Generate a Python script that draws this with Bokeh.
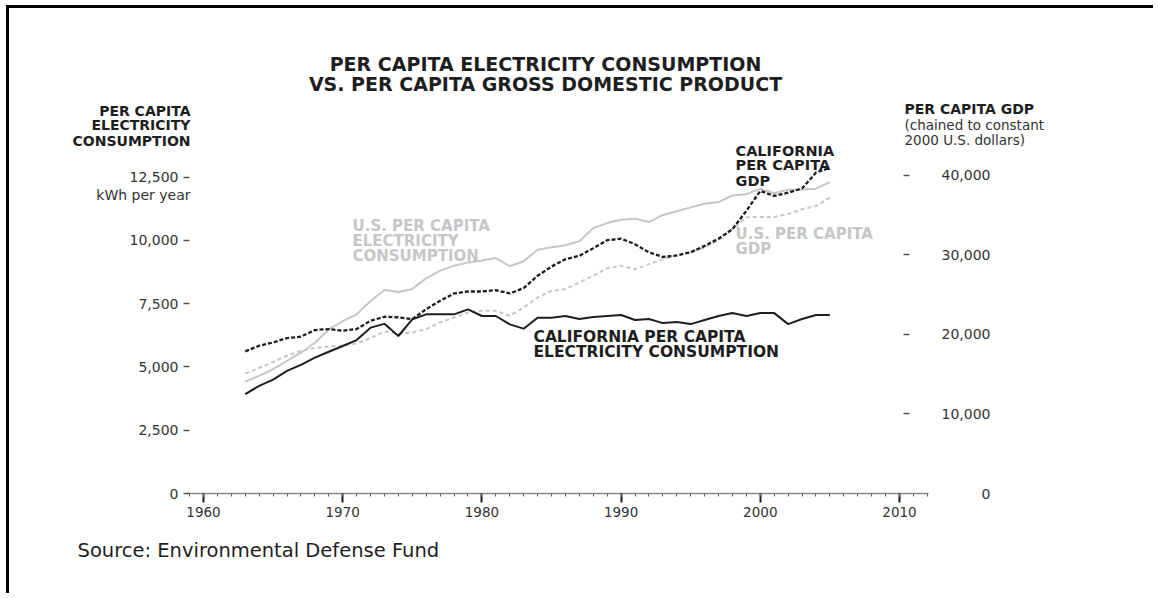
from bokeh.plotting import figure
from bokeh.models import Range1d, LinearAxis, FixedTicker, Label
from bokeh.embed import file_html
from bokeh.resources import INLINE

# ---------------- data ----------------
years = list(range(1963, 2006))
ca_elec = [3925, 4250, 4500, 4840, 5080, 5365, 5600, 5825, 6060, 6550, 6700, 6220,
           6880, 7075, 7075, 7075, 7270, 7010, 7010, 6680, 6510, 6940, 6940, 7010,
           6890, 6970, 7010, 7050, 6850, 6890, 6730, 6770, 6690, 6850, 7010, 7125,
           7010, 7125, 7125, 6690, 6890, 7050, 7050]
us_elec = [4420, 4645, 4910, 5235, 5560, 5955, 6480, 6810, 7075, 7600, 8040, 7960,
           8080, 8500, 8800, 9000, 9120, 9200, 9300, 8975, 9175, 9630, 9725, 9800,
           9960, 10480, 10680, 10815, 10855, 10720, 11000, 11150, 11300, 11440, 11510,
           11770, 11820, 12040, 11860, 12000, 12010, 12040, 12300]
ca_gdp = [17850, 18560, 18970, 19525, 19690, 20530, 20650, 20440, 20650, 21690, 22200,
          22110, 21900, 23160, 24200, 25120, 25370, 25370, 25540, 25120, 25795, 27340,
          28500, 29430, 29845, 30810, 31810, 32000, 31310, 30300, 29700, 29900, 30300,
          31100, 32000, 33200, 35500, 38000, 37370, 37780, 38330, 40300, 40900]
us_gdp = [15085, 15760, 16500, 17300, 17930, 18270, 18470, 18560, 18850, 19525, 20350,
          20030, 20225, 20650, 21480, 22110, 22735, 22950, 22950, 22320, 23360, 24615,
          25455, 25670, 26500, 27340, 28300, 28590, 28175, 28800, 29430, 29930, 30300,
          30900, 31800, 33200, 34700, 34735, 34735, 35100, 35700, 36115, 37155]

x_ticks = [1960, 1970, 1980, 1990, 2000, 2010]
x_minor = list(range(1959, 2013))
elec_ticks = [0, 2500, 5000, 7500, 10000, 12500]
gdp_ticks = [0, 10000, 20000, 30000, 40000]

title_lines = ["PER CAPITA ELECTRICITY CONSUMPTION", "VS. PER CAPITA GROSS DOMESTIC PRODUCT"]
left_title = ["PER CAPITA", "ELECTRICITY", "CONSUMPTION"]
left_unit = "kWh per year"
right_title = ["PER CAPITA GDP", "(chained to constant", "2000 U.S. dollars)"]
lbl_us_elec = ["U.S. PER CAPITA", "ELECTRICITY", "CONSUMPTION"]
lbl_ca_gdp = ["CALIFORNIA", "PER CAPITA", "GDP"]
lbl_us_gdp = ["U.S. PER CAPITA", "GDP"]
lbl_ca_elec = ["CALIFORNIA PER CAPITA", "ELECTRICITY CONSUMPTION"]
source_text = "Source: Environmental Defense Fund"

# ---------------- layout (page pixel geometry) ----------------
FONT = "DejaVu Sans"
BLACK = "#1e1e1e"
GRAY = "#c6c6c6"
TICKC = "#333333"
W, H = 1147, 588
OX, OY = 9, 8                       # canvas origin on the page (margin + border)
MB_L, MB_R, MB_T, MB_B = 60, 10, 5, 10
FLp, FRp = OX + MB_L, OX + W - MB_R
FTp, FBp = OY + MB_T, OY + H - MB_B
X0P, PXY = 203.0, 13.92             # page x of 1960, px per year
Y0P = 493.0                         # page y of value 0
K = 12500 / 316.5                   # kWh per px
G = 40000 / 318.5                   # $ per px


def dx(px):
    return 1960 + (px - X0P) / PXY


def dy(py):
    return (Y0P - py) * K


def dg(py):
    return (Y0P - py) * G


p = figure(width=W, height=H, output_backend="svg", toolbar_location=None,
           x_range=Range1d(dx(FLp), dx(FRp)), y_range=Range1d(dy(FBp), dy(FTp)),
           x_axis_location=None, y_axis_location=None,
           min_border_left=MB_L, min_border_right=MB_R, min_border_top=MB_T,
           min_border_bottom=MB_B, background_fill_color="white",
           border_fill_color="white", outline_line_color=None)
p.styles = {"margin-left": "6px", "margin-top": "5px",
            "border-left": "3px solid #000", "border-top": "3px solid #000"}
p.grid.visible = False
p.extra_y_ranges = {"gdp": Range1d(dg(FBp), dg(FTp))}


def bare(ax):
    ax.axis_line_color = None
    ax.major_tick_line_color = None
    ax.minor_tick_line_color = None
    ax.major_tick_in = 0
    ax.major_tick_out = 0
    ax.minor_tick_in = 0
    ax.minor_tick_out = 0
    ax.major_label_text_font = FONT
    ax.major_label_text_color = TICKC


# x axis
xa = LinearAxis(ticker=FixedTicker(ticks=x_ticks, minor_ticks=x_minor),
                fixed_location=0, bounds=(dx(187), dx(928)))
xa.axis_line_color = "#8a8a8a"
xa.axis_line_width = 1.5
xa.major_tick_line_color = BLACK
xa.major_tick_line_width = 2
xa.major_tick_out = 9
xa.major_tick_in = 0
xa.minor_tick_line_color = "#666666"
xa.minor_tick_out = 3
xa.minor_tick_in = 0
xa.major_label_standoff = 4
xa.major_label_text_font = FONT
xa.major_label_text_font_size = "13.5px"
xa.major_label_text_color = TICKC
p.add_layout(xa, "below")

# left axis: electricity (labels + dash ticks)
ya = LinearAxis(ticker=FixedTicker(ticks=elec_ticks), fixed_location=dx(189))
bare(ya)
ya.major_tick_line_color = "#555555"
ya.major_tick_line_width = 1.3
ya.major_tick_out = 6
ya.major_label_standoff = 5
ya.major_label_overrides = {v: f"{v:,}" for v in elec_ticks}
ya.major_label_text_font_size = "14px"
p.add_layout(ya, "left")

# right axis: GDP labels (right aligned) and dash ticks
ga = LinearAxis(y_range_name="gdp", ticker=FixedTicker(ticks=gdp_ticks),
                fixed_location=dx(990))
bare(ga)
ga.major_label_standoff = 0
ga.major_label_overrides = {v: f"{v:,}" for v in gdp_ticks}
ga.major_label_text_font_size = "14px"
p.add_layout(ga, "left")

gd = LinearAxis(y_range_name="gdp", ticker=FixedTicker(ticks=gdp_ticks[1:]),
                fixed_location=dx(903))
bare(gd)
gd.major_tick_line_color = "#555555"
gd.major_tick_line_width = 1.3
gd.major_tick_out = 6
gd.major_label_text_font_size = "0px"
gd.major_label_text_alpha = 0
p.add_layout(gd, "right")

# lines
p.line(years, us_elec, line_color=GRAY, line_width=2)
p.line(years, us_gdp, line_color=GRAY, line_width=2, line_dash="4 3", y_range_name="gdp")
p.line(years, ca_gdp, line_color=BLACK, line_width=2.3, line_dash="4 2", y_range_name="gdp")
p.line(years, ca_elec, line_color=BLACK, line_width=2)


def add_text(text, px, py, size, bold=False, color=BLACK, align="left"):
    p.add_layout(Label(x=dx(px), y=dy(py), text=text, text_font=FONT,
                       text_font_size=f"{size}px",
                       text_font_style="bold" if bold else "normal",
                       text_color=color, text_align=align,
                       text_baseline="alphabetic"))


for t, by in zip(title_lines, [63.5, 83.5]):
    add_text(t, 545, by, 19, True, BLACK, "center")
for t, by in zip(left_title, [110, 124.5, 140]):
    add_text(t, 190, by, 14, True, BLACK, "right")
add_text(left_unit, 190, 194.5, 14, False, TICKC, "right")
add_text(right_title[0], 904, 108.5, 14, True, BLACK)
for t, by in zip(right_title[1:], [124.3, 139.3]):
    add_text(t, 904, by, 13.5, False, TICKC)
for t, by in zip(lbl_us_elec, [225, 240, 255]):
    add_text(t, 352, by, 15, True, GRAY)
for t, by in zip(lbl_ca_gdp, [150, 164.5, 180]):
    add_text(t, 735, by, 14.5, True, BLACK)
for t, by in zip(lbl_us_gdp, [233.5, 248]):
    add_text(t, 735, by, 15, True, GRAY)
for t, by in zip(lbl_ca_elec, [336, 351]):
    add_text(t, 533, by, 15.5, True, BLACK)
add_text(source_text, 77, 550, 19.5, False, BLACK)

open("out.html", "w").write(file_html(p, INLINE))
